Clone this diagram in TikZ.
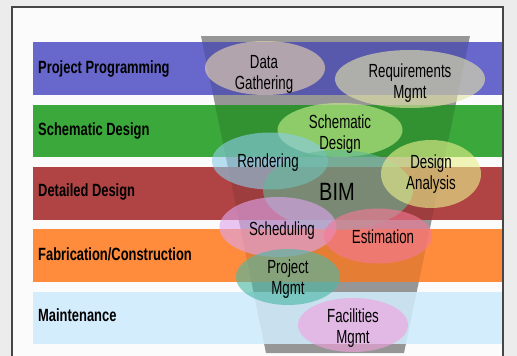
\documentclass[tikz,border=0pt]{standalone}
\usepackage{fontspec}
\setmainfont{Liberation Sans}
\newfontfamily\bandfont[FakeStretch=0.73]{Liberation Sans}
\newfontfamily\bubblefont[FakeStretch=0.7]{Liberation Sans}
\newfontfamily\bimfont[FakeStretch=0.8]{Liberation Sans}
\usetikzlibrary{shapes.geometric}

% page and frame
\definecolor{pagebg}{RGB}{236,236,236}
\definecolor{panelbg}{RGB}{251,251,251}
\definecolor{framecol}{RGB}{70,70,70}
% phase bands
\definecolor{progblue}{RGB}{104,104,204}
\definecolor{schemgreen}{RGB}{58,168,58}
\definecolor{detred}{RGB}{176,68,68}
\definecolor{fabors}{RGB}{255,140,60}
\definecolor{mainblue}{RGB}{212,237,252}
\definecolor{funnelgray}{RGB}{150,150,150}
% bubbles
\definecolor{cData}{RGB}{232,212,172}
\definecolor{cReq}{RGB}{228,228,170}
\definecolor{cSchem}{RGB}{200,240,140}
\definecolor{cRender}{RGB}{140,205,232}
\definecolor{cBIM}{RGB}{100,185,150}
\definecolor{cAnalysis}{RGB}{232,240,140}
\definecolor{cSched}{RGB}{222,165,238}
\definecolor{cEstim}{RGB}{245,120,150}
\definecolor{cProj}{RGB}{75,185,165}
\definecolor{cFacil}{RGB}{242,160,222}

\tikzset{
  bandlabel/.style={anchor=base west, inner sep=0pt,
    font=\bandfont\bfseries\fontsize{17.7}{20}\selectfont, text=black},
  bubble/.style={ellipse, draw=none, inner sep=0pt, fill opacity=0.62},
  bubbletext/.style={align=center, inner sep=0pt, text=black,
    font=\bubblefont\fontsize{19}{21}\selectfont},
}

\begin{document}
\begin{tikzpicture}[x=1pt,y=-1pt]
\useasboundingbox (0,0) rectangle (517,356);
\clip (0,0) rectangle (517,356);

% page and panel frame
\fill[pagebg] (0,0) rectangle (517,356);
\draw[framecol, line width=1.2pt, fill=panelbg] (12,7) rectangle (503,370);

% funnel behind the bands
\fill[funnelgray] (201,36) -- (470,36) -- (404,353) -- (266,353) -- cycle;

% phase bands
\fill[progblue]   (33,42)  rectangle (502,95);
\fill[schemgreen] (33,105) rectangle (502,157);
\fill[detred]     (33,167) rectangle (502,220);
\fill[fabors]     (33,229) rectangle (502,282);
\fill[mainblue]   (33,292) rectangle (502,344);

% bands are shaded where the funnel passes through them
\begin{scope}
  \clip (201,36) -- (470,36) -- (404,353) -- (266,353) -- cycle;
  \fill[black, opacity=0.15] (33,42) rectangle (502,95);
  \fill[black, opacity=0.13] (33,105) rectangle (502,157);
  \fill[black, opacity=0.10] (33,167) rectangle (502,220);
  \fill[black, opacity=0.10] (33,229) rectangle (502,282);
  \fill[black, opacity=0.05] (33,292) rectangle (502,344);
\end{scope}

% band labels
\node[bandlabel] (lProg)  at (38,73)  {Project Programming};
\node[bandlabel] (lSchem) at (38,135) {Schematic Design};
\node[bandlabel] (lDet)   at (38,196) {Detailed Design};
\node[bandlabel] (lFab)   at (38,260) {Fabrication/Construction};
\node[bandlabel] (lMain)  at (38,321) {Maintenance};

% overlapping activity bubbles
\node[bubble, fill=cData,     minimum width=120pt, minimum height=54pt] (eData)     at (265,68)  {};
\node[bubble, fill=cReq,      minimum width=150pt, minimum height=58pt] (eReq)      at (410,79)  {};
\node[bubble, fill=cSchem,    minimum width=125pt, minimum height=54pt] (eSchem)    at (340,130) {};
\node[bubble, fill=cRender,   minimum width=116pt, minimum height=57pt] (eRender)   at (270,161) {};
\node[bubble, fill=cBIM,      minimum width=150pt, minimum height=80pt] (eBIM)      at (338,190) {};
\node[bubble, fill=cAnalysis, minimum width=100pt, minimum height=68pt] (eAnalysis) at (431,174) {};
\node[bubble, fill=cSched,    minimum width=117pt, minimum height=60pt] (eSched)    at (278,227) {};
\node[bubble, fill=cEstim,    minimum width=108pt, minimum height=55pt] (eEstim)    at (378,236) {};
\node[bubble, fill=cProj,     minimum width=104pt, minimum height=56pt] (eProj)     at (288,277) {};
\node[bubble, fill=cFacil,    minimum width=110pt, minimum height=54pt] (eFacil)    at (353,325) {};

% bubble captions
\node[bubbletext] (tData)     at (264,74.7)  {Data\\Gathering};
\node[bubbletext] (tReq)      at (410,82.7)  {Requirements\\Mgmt};
\node[bubbletext] (tSchem)    at (340,134.2) {Schematic\\Design};
\node[bubbletext, anchor=base] (tRender) at (268,167) {Rendering};
\node[bubbletext, anchor=base, font=\bimfont\fontsize{25}{27}\selectfont] (tBIM) at (337,200) {BIM};
\node[bubbletext] (tAnalysis) at (431,173.7) {Design\\Analysis};
\node[bubbletext, anchor=base] (tSched)  at (282,235) {Scheduling};
\node[bubbletext, anchor=base] (tEstim)  at (383,243) {Estimation};
\node[bubbletext] (tProj)     at (288,279.2) {Project\\Mgmt};
\node[bubbletext] (tFacil)    at (353,327.7) {Facilities\\Mgmt};
\end{tikzpicture}
\end{document}
